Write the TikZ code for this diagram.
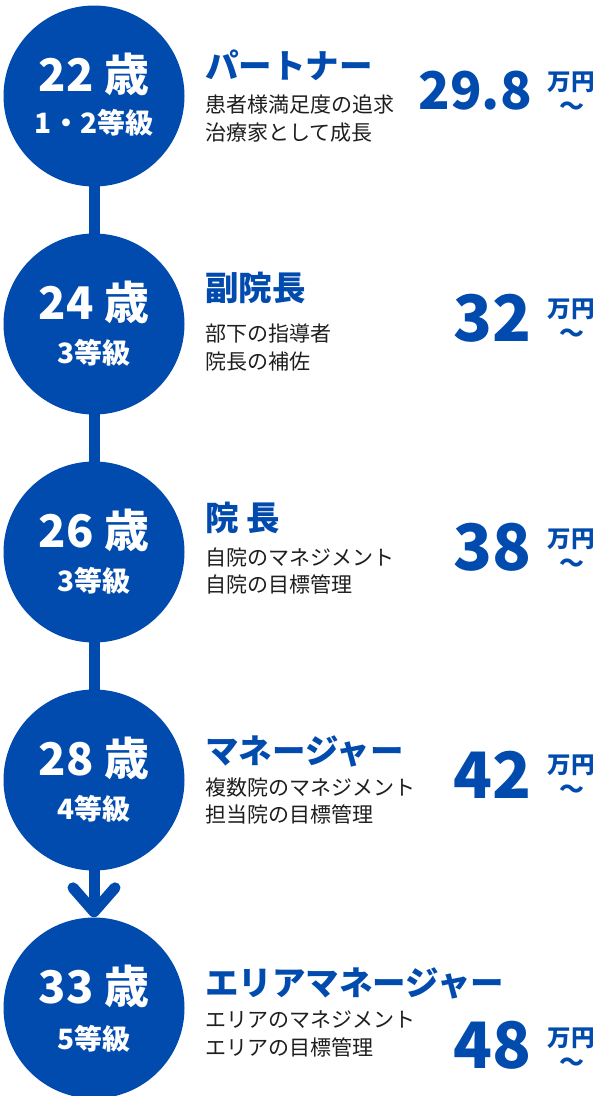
\documentclass[tikz,border=0pt]{standalone}
\usepackage{fontspec}
\setmainfont{Noto Sans CJK JP}
\usetikzlibrary{arrows.meta}
\definecolor{careerblue}{RGB}{0,75,173}
\definecolor{careertext}{RGB}{30,30,30}

\begin{document}
\begin{tikzpicture}[x = 1pt, y = -1pt,
        stage/.style = {circle, fill = careerblue, minimum size = 181pt, inner sep = 0pt},
        age/.style = {text = white, inner sep = 0pt, font = \bfseries\fontsize{45}{45}\selectfont},
        grade/.style = {text = white, inner sep = 0pt, font = \bfseries\fontsize{28}{28}\selectfont},
        post/.style = {anchor = west, text = careerblue, inner sep = 0pt, font = \bfseries\fontsize{33.5}{33.5}\selectfont},
        duty/.style = {anchor = west, align = left, text = careertext, inner sep = 0pt, font = \fontsize{21}{27.5}\selectfont},
        pay/.style = {anchor = east, text = careerblue, inner sep = 0pt, font = \bfseries\fontsize{64}{64}\selectfont},
        unit/.style = {text = careerblue, inner sep = 0pt, font = \bfseries\fontsize{23.5}{23.5}\selectfont},
        wave/.style = {text = careerblue, inner sep = 0pt, font = \bfseries\fontsize{25}{25}\selectfont},
        link/.style = {draw = careerblue, line width = 11pt}]
    \useasboundingbox (0,0) rectangle (602,1096);
    % stages
    \node[stage] (c1) at (94,96) {};
    \node[stage] (c2) at (94,324) {};
    \node[stage] (c3) at (94,552) {};
    \node[stage] (c4) at (94,780) {};
    \node[stage] (c5) at (94,1008) {};
    \begin{scope}[style = link]
        \draw[shorten < = -4pt, shorten > = -4pt] (c1) -- (c2);
        \draw[shorten < = -4pt, shorten > = -4pt] (c2) -- (c3);
        \draw[shorten < = -4pt, shorten > = -4pt] (c3) -- (c4);
        \draw[shorten < = -4pt, -{Straight Barb[length = 24pt, width = 42pt, line cap = round, line join = round]}] (c4) -- (c5);
    \end{scope}
    % 22
    \node[age] (a1) at (94,74) {22 歳};
    \node[grade] (g1) at (94,123) {1・2等級};
    \node[post] (p1) at (205,65) {パートナー};
    \node[duty] (d1) at (205,118.5) {患者様満足度の追求\\治療家として成長};
    \node[pay, font = \bfseries\fontsize{52}{52}\selectfont] (s1) at (532,91) {29.8};
    \node[unit] (u1) at (571,82.5) {万円};
    \node[wave] (w1) at (572,109) {〜};
    % 24
    \node[age] (a2) at (94,302) {24 歳};
    \node[grade] (g2) at (94,353) {3等級};
    \node[post] (p2) at (205,288) {副院長};
    \node[duty] (d2) at (205,347.5) {部下の指導者\\院長の補佐};
    \node[pay] (s2) at (532,318) {32};
    \node[unit] (u2) at (571,309.5) {万円};
    \node[wave] (w2) at (572,336) {〜};
    % 26
    \node[age] (a3) at (94,530) {26 歳};
    \node[grade] (g3) at (94,581) {3等級};
    \node[post] (p3) at (205,518) {院 長};
    \node[duty] (d3) at (205,571) {自院のマネジメント\\自院の目標管理};
    \node[pay] (s3) at (532,547) {38};
    \node[unit] (u3) at (571,539.5) {万円};
    \node[wave] (w3) at (572,566) {〜};
    % 28
    \node[age] (a4) at (94,758) {28 歳};
    \node[grade] (g4) at (94,809) {4等級};
    \node[post] (p4) at (205,751) {マネージャー};
    \node[duty] (d4) at (205,801) {複数院のマネジメント\\担当院の目標管理};
    \node[pay] (s4) at (532,775) {42};
    \node[unit] (u4) at (571,765.5) {万円};
    \node[wave] (w4) at (572,792) {〜};
    % 33
    \node[age] (a5) at (94,986) {33 歳};
    \node[grade] (g5) at (94,1039) {5等級};
    \node[post] (p5) at (205,983) {エリアマネージャー};
    \node[duty] (d5) at (205,1034) {エリアのマネジメント\\エリアの目標管理};
    \node[pay] (s5) at (532,1045) {48};
    \node[unit] (u5) at (571,1038) {万円};
    \node[wave] (w5) at (572,1064.5) {〜};
\end{tikzpicture}
\end{document}
